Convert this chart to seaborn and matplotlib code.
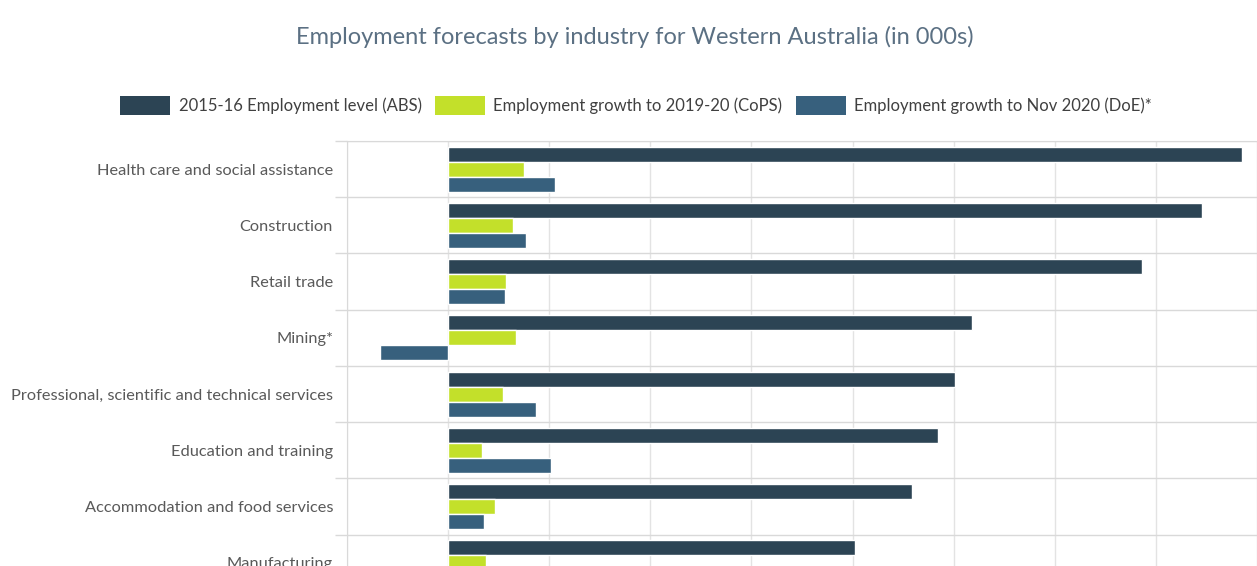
import pandas as pd
import numpy as np
import matplotlib
matplotlib.use('Agg')
import matplotlib.pyplot as plt
import seaborn as sns
from matplotlib.patches import Patch

# values (thousands)
industries = [
    'Health care and social assistance',
    'Construction',
    'Retail trade',
    'Mining*',
    'Professional, scientific and technical services',
    'Education and training',
    'Accommodation and food services',
    'Manufacturing',
]
level_abs = [157.0, 149.2, 137.2, 103.6, 100.2, 97.0, 91.7, 80.4]
growth_cops = [15.0, 12.9, 11.5, 13.5, 10.9, 6.8, 9.3, 7.6]
growth_doe = [21.2, 15.4, 11.3, -13.5, 17.4, 20.4, 7.1, 4.0]

series_names = ['2015-16 Employment level (ABS)',
                'Employment growth to 2019-20 (CoPS)',
                'Employment growth to Nov 2020 (DoE)*']
colors = ['#2C4454', '#C3E02A', '#37607D']

df = pd.DataFrame({
    'industry': industries * 3,
    'value': level_abs + growth_cops + growth_doe,
    'series': np.repeat(series_names, len(industries)),
})

sns.set_style('white')
plt.rcParams['font.family'] = ['Lato', 'DejaVu Sans']

fig = plt.figure(figsize=(12.57, 5.66), dpi=100)
ax = fig.add_axes([0.276, -0.044, 0.724, 0.795])

sns.barplot(data=df, x='value', y='industry', hue='series', order=industries,
            hue_order=series_names, palette=colors, saturation=1, width=0.8,
            orient='h', ax=ax, legend=False)

ax.set_xlim(-20, 160)
ax.set_ylim(len(industries) - 0.5, -0.5)
ax.set_xticks(np.arange(-20, 161, 20))
ax.set_xticklabels([])
ax.tick_params(axis='x', length=0)
ax.set_yticks(range(len(industries)))
ax.set_yticks(np.arange(-0.5, len(industries), 1), minor=True)
ax.tick_params(axis='y', which='major', left=False, length=0, pad=10,
               labelsize=11.8, labelcolor='#595959')
ax.tick_params(axis='y', which='minor', left=True, length=9, color='#D9D9D9', width=1)
ax.grid(axis='x', which='major', color='#E3E3E3', lw=1)
ax.grid(axis='y', which='minor', color='#D9D9D9', lw=1)
ax.set_axisbelow(True)
ax.set_xlabel('')
ax.set_ylabel('')
for s in ['right', 'bottom']:
    ax.spines[s].set_visible(False)
ax.spines['left'].set_color('#D9D9D9')
ax.spines['top'].set_color('#D9D9D9')

handles = [Patch(facecolor=c, edgecolor='none') for c in colors]
fig.legend(handles, series_names, loc='center', bbox_to_anchor=(0.506, 0.814),
           ncol=3, frameon=False, fontsize=12, handlelength=3.0, handleheight=1.35,
           handletextpad=0.5, columnspacing=0.8, labelcolor='#404040')

fig.text(0.505, 0.935, 'Employment forecasts by industry for Western Australia (in 000s)',
         ha='center', va='center', fontsize=17, color='#5B7083')

fig.savefig('out.png', dpi=100)
